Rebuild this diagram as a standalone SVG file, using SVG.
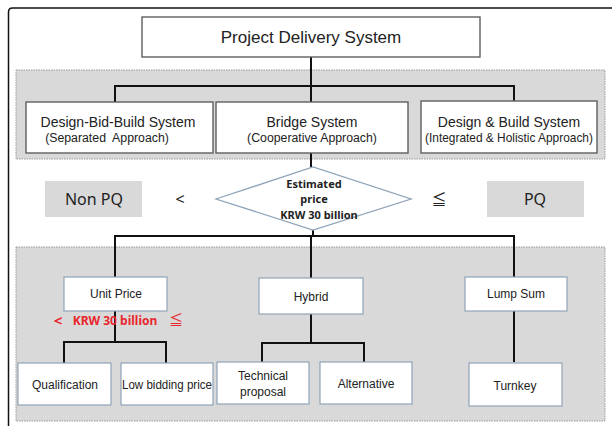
<svg xmlns="http://www.w3.org/2000/svg" width="612" height="426" viewBox="0 0 612 426">
<style>
.band{fill:#d9d9d9;stroke:#9a9a9a;stroke-width:1;stroke-dasharray:1.5 1}
.ubox{fill:#fff;stroke:#5f5f5f;stroke-width:1.4}
.lbox{fill:#fff;stroke:#8fa4b8;stroke-width:1.2}
.pq{fill:#d9d9d9}
.conn{fill:none;stroke:#111;stroke-width:2}
.t{font-family:"Liberation Sans",Arial,sans-serif;fill:#222;text-anchor:middle}
.k{font-family:"Noto Sans","Open Sans",sans-serif;fill:#222;text-anchor:middle}
.kk{font-family:"Noto Sans CJK KR",sans-serif;fill:#222;text-anchor:middle}
.kb{font-family:"Noto Sans","Open Sans",sans-serif;font-weight:bold;fill:#222;text-anchor:middle}
.red{font-family:"Noto Sans","Open Sans",sans-serif;font-weight:bold;fill:#e8262e;text-anchor:middle}
.redk{font-family:"Noto Sans CJK KR",sans-serif;fill:#e8262e;text-anchor:middle}
</style>
<rect width="612" height="426" fill="#fff"/>
<path d="M8.5,426 V12 Q8.5,8 12.5,8 H612" fill="none" stroke="#111" stroke-width="1.5"/>
<rect class="band" x="16" y="70" width="589" height="89"/>
<rect class="band" x="16" y="247" width="589" height="174"/>
<g id="connectors">
<path class="conn" d="M311,57 V86 M115,86 H514 M115,85 V102 M311,86 V102 M514,85 V101"/>
<path class="conn" d="M311,153 V167 M313,230 V236 M115,236 H514 M115,235 V277 M311,236 V278 M514,235 V277"/>
<path class="conn" d="M115,311 V342 M64,342 H166 M64,341 V363 M166,341 V363"/>
<path class="conn" d="M311,314 V343 M262,343 H364 M262,342 V362 M364,342 V362"/>
<path class="conn" d="M514,311 V362"/>
</g>
<g id="title"><rect class="ubox" x="142" y="17" width="338" height="40"/><text class="t" x="311" y="43" font-size="17">Project Delivery System</text></g>
<g id="dbb"><rect class="ubox" x="26" y="102" width="187" height="51"/><text class="t" x="118" y="127" font-size="14">Design-Bid-Build System</text><text class="t" x="107" y="142" font-size="12.3" xml:space="preserve">(Separated  Approach)</text></g>
<g id="bridge"><rect class="ubox" x="216" y="102" width="192" height="51"/><text class="t" x="312" y="127" font-size="14">Bridge System</text><text class="t" x="312" y="142" font-size="12.3">(Cooperative Approach)</text></g>
<g id="db"><rect class="ubox" x="421" y="101" width="176" height="52"/><text class="t" x="509" y="127" font-size="14">Design &amp; Build System</text><text class="t" x="509" y="142" font-size="11.9">(Integrated &amp; Holistic Approach)</text></g>
<g id="nonpq"><rect class="pq" x="45" y="181" width="97" height="36"/><text class="k" x="94" y="205" font-size="16">Non PQ</text></g>
<g id="lt"><text class="k" x="180" y="205" font-size="16">&lt;</text></g>
<g id="diamond"><polygon points="216,199 313,167 411,199 313,230" fill="#fff" stroke="#8fa4b8" stroke-width="1.3"/><text class="kb" x="314" y="188" font-size="11">Estimated</text><text class="kb" x="314" y="203" font-size="11">price</text><text class="kb" x="319" y="219" font-size="11">KRW 30 billion</text></g>
<g id="le"><text class="kk" x="439" y="205" font-size="15">≦</text></g>
<g id="pqbox"><rect class="pq" x="487" y="181" width="97" height="36"/><text class="k" x="535" y="205" font-size="16">PQ</text></g>
<g id="unitprice"><rect class="lbox" x="64" y="277" width="103" height="34"/><text class="t" x="116" y="298" font-size="12">Unit Price</text></g>
<g id="redlabel"><text class="red" x="58" y="326" font-size="15" font-weight="normal">&lt;</text><text class="red" x="115" y="325" font-size="12">KRW 30 billion</text><text class="redk" x="176" y="325" font-size="14">≦</text></g>
<g id="hybrid"><rect class="lbox" x="259" y="278" width="104" height="36"/><text class="t" x="311" y="301" font-size="12">Hybrid</text></g>
<g id="lumpsum"><rect class="lbox" x="465" y="277" width="102" height="34"/><text class="t" x="516" y="298" font-size="12">Lump Sum</text></g>
<g id="qual"><rect class="lbox" x="18" y="363" width="93" height="42"/><text class="t" x="65" y="389" font-size="12">Qualification</text></g>
<g id="lowbid"><rect class="lbox" x="121" y="363" width="92" height="42"/><text class="t" x="167" y="389" font-size="12" textLength="90" lengthAdjust="spacingAndGlyphs">Low bidding price</text></g>
<g id="tech"><rect class="lbox" x="217" y="362" width="92" height="42"/><text class="t" x="263" y="380" font-size="12">Technical</text><text class="t" x="263" y="396" font-size="12">proposal</text></g>
<g id="alt"><rect class="lbox" x="320" y="362" width="92" height="42"/><text class="t" x="366" y="388" font-size="12">Alternative</text></g>
<g id="turnkey"><rect class="lbox" x="469" y="363" width="93" height="43"/><text class="t" x="515" y="390" font-size="12">Turnkey</text></g>
</svg>
